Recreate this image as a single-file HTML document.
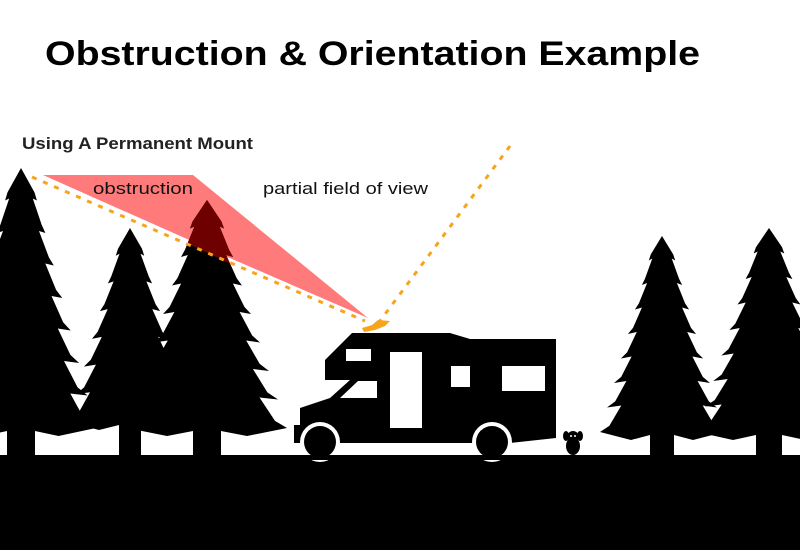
<!DOCTYPE html>
<html><head><meta charset="utf-8"><style>
html,body{margin:0;padding:0;background:#fff;}
svg{display:block;}
</style></head><body>
<svg id="s" width="800" height="550" viewBox="0 0 800 550" xmlns="http://www.w3.org/2000/svg">
<defs>
<clipPath id="red"><polygon points="43,175 193,175 368,318 345,318"/></clipPath>
</defs>
<text x="45" y="65" font-family="Liberation Sans, sans-serif" font-weight="bold" font-size="34" textLength="655" lengthAdjust="spacingAndGlyphs">Obstruction &amp; Orientation Example</text>
<text x="22" y="149" font-family="Liberation Sans, sans-serif" font-weight="bold" font-size="17" fill="#222" textLength="231" lengthAdjust="spacingAndGlyphs">Using A Permanent Mount</text>
<polygon points="43,175 193,175 368,318 230,258" fill="#ff7b7b"/>
<polygon points="43,175 230,258 368,318" fill="#ff7b7b"/>
<g id="trees"></g>
<g id="redtree" clip-path="url(#red)"></g>
<text x="93" y="194" font-family="Liberation Sans, sans-serif" font-size="17" fill="#111" textLength="100" lengthAdjust="spacingAndGlyphs">obstruction</text>
<text x="263" y="194" font-family="Liberation Sans, sans-serif" font-size="17" fill="#111" textLength="165" lengthAdjust="spacingAndGlyphs">partial field of view</text>
<line x1="32" y1="177" x2="365" y2="321" stroke="#f7a41d" stroke-width="3" stroke-dasharray="5,7"/>
<line x1="510" y1="146" x2="380" y2="321" stroke="#f7a41d" stroke-width="3" stroke-dasharray="5,7"/>
<!-- RV -->
<polygon points="352,333 450,333 470,339 556,339 556,438 510,443 294,443 294,425 300,425 300,408 330,398 350,380 325,380 325,360" fill="#000"/>
<polygon points="340,398 358,381 377,381 377,398" fill="#fff"/>
<rect x="346" y="349" width="25" height="12" fill="#fff"/>
<rect x="390" y="352" width="32" height="76" fill="#fff"/>
<rect x="451" y="366" width="19" height="21" fill="#fff"/>
<rect x="502" y="366" width="43" height="25" fill="#fff"/>
<polygon points="362,328 372,325 378,320 390,321 385,326 375,330 364,332" fill="#f7a41d"/>
<rect x="0" y="455" width="800" height="95" fill="#000"/>
<circle cx="320" cy="442" r="20" fill="#fff"/><circle cx="320" cy="442" r="16" fill="#000"/>
<circle cx="492" cy="442" r="20" fill="#fff"/><circle cx="492" cy="442" r="16" fill="#000"/>
<rect x="296" y="455" width="220" height="5" fill="#000"/>
<!-- dog -->
<ellipse cx="573" cy="446" rx="7" ry="9" fill="#000"/>
<circle cx="573" cy="437" r="6" fill="#000"/>
<ellipse cx="566" cy="436" rx="3" ry="5" fill="#000"/><ellipse cx="580" cy="436" rx="3" ry="5" fill="#000"/>
<circle cx="571" cy="436" r="1" fill="#fff"/><circle cx="575" cy="436" r="1" fill="#fff"/>
</svg>
<script>
function tree(cx,top,bot,w,n,trunkW){
  var h=bot-top, L=[], R=[];
  for(var i=0;i<n;i++){
    var y0=top+h*i/n, y=top+h*(i+1)/n, wo=w*(0.1+0.9*(i+1)/n), wi=wo*0.74;
    R.push([cx+wo*0.85,(y0*0.25+y*0.75)]);R.push([cx+wo,y]); L.push([cx-wo*0.85,(y0*0.25+y*0.75)]);L.push([cx-wo,y]);
    if(i<n-1){R.push([cx+wi,y-2]); L.push([cx-wi,y-2]);}
  }
  var pts=[[cx,top]].concat(R);
  pts.push([cx+w*0.5,bot+8]);pts.push([cx+trunkW/2,bot+3]);pts.push([cx+trunkW/2,458]);pts.push([cx-trunkW/2,458]);pts.push([cx-trunkW/2,bot+3]);pts.push([cx-w*0.5,bot+8]);
  pts=pts.concat(L.reverse());
  return pts.map(function(p){return p[0].toFixed(1)+","+p[1].toFixed(1)}).join(" ");
}
var T=[[21,168,428,75,8,28],[130,228,422,62,7,22],[207,200,428,80,8,28],[662,236,432,62,8,24],[769,228,432,72,8,26]];
var g=document.getElementById('trees'),r=document.getElementById('redtree');
T.forEach(function(t){
  var p=document.createElementNS('http://www.w3.org/2000/svg','polygon');
  p.setAttribute('points',tree.apply(null,t));p.setAttribute('fill','#000');g.appendChild(p);
  var q=p.cloneNode();q.setAttribute('fill','#6e0000');r.appendChild(q);
});
</script>
</body></html>
